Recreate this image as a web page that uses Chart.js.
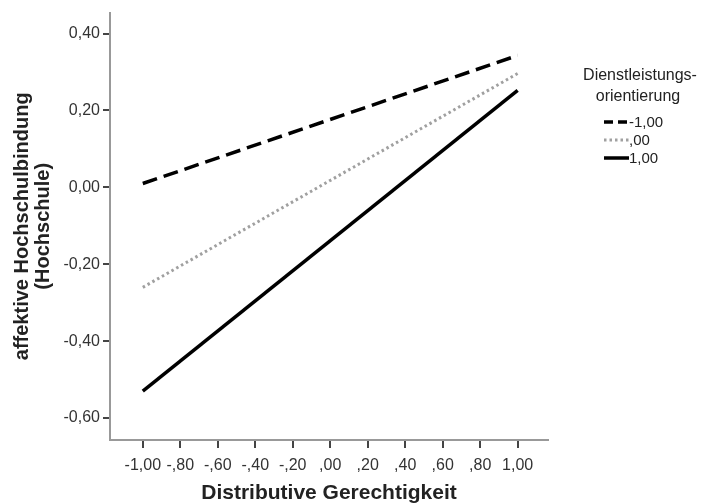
<!DOCTYPE html>
<html>
<head>
<meta charset="utf-8">
<script src="https://cdn.jsdelivr.net/npm/chart.js@4/dist/chart.umd.min.js"></script>
<style>
  html, body { margin: 0; padding: 0; background: #fff; }
  #wrap { width: 705px; height: 504px; }
</style>
</head>
<body>
<div id="wrap"><canvas id="plot" width="705" height="504"></canvas></div>
<script>
"use strict";

// Werte
const xEnds = [-1, 1];
const seriesLabels = ["-1,00", ",00", "1,00"];
const lowOrient = [0.01, 0.343];
const midOrient = [-0.26, 0.296];
const highOrient = [-0.53, 0.252];
const xTicks = [-1, -0.8, -0.6, -0.4, -0.2, 0, 0.2, 0.4, 0.6, 0.8, 1];
const yTicks = [-0.6, -0.4, -0.2, 0, 0.2, 0.4];

const FONT = "Arial, 'Liberation Sans', sans-serif";

function toPoints(ys) {
    return xEnds.map((x, i) => ({ x: x, y: ys[i] }));
}

// deutsches Format, wie SPSS: 0,40 bzw. -,80
function fmtY(v) {
    return v.toFixed(2).replace(".", ",");
}
function fmtX(v) {
    let s = Math.abs(v).toFixed(2).replace(".", ",");
    if (Math.abs(v) < 1) s = s.replace(/^0/, "");
    return (v < 0 ? "-" : "") + s;
}

const styles = [
    { color: "#000", dash: [15, 7], width: 3.5 },
    { color: "#a0a0a0", dash: [2.5, 3], width: 3 },
    { color: "#000", dash: [], width: 3.5 }
];

const datasets = [lowOrient, midOrient, highOrient].map((ys, i) => ({
    label: seriesLabels[i],
    data: toPoints(ys),
    borderColor: styles[i].color,
    borderDash: styles[i].dash,
    borderWidth: styles[i].width,
    pointRadius: 0,
    fill: false,
    tension: 0
}));

// eigene Legende rechts
const legendPlugin = {
    id: "sideLegend",
    afterDraw(chart) {
        const ctx = chart.ctx;
        ctx.save();
        ctx.fillStyle = "#222";
        ctx.textAlign = "center";
        ctx.textBaseline = "middle";
        ctx.font = "16px " + FONT;
        ctx.fillText("Dienstleistungs-", 640, 76);
        ctx.fillText("orientierung", 638, 97);
        ctx.font = "15px " + FONT;
        ctx.textAlign = "left";
        chart.data.datasets.forEach((ds, i) => {
            const y = 122 + i * 18;
            ctx.beginPath();
            ctx.strokeStyle = ds.borderColor;
            ctx.lineWidth = ds.borderWidth;
            ctx.setLineDash(i === 0 ? [9, 5] : ds.borderDash);
            ctx.moveTo(604, y);
            ctx.lineTo(629, y);
            ctx.stroke();
            ctx.setLineDash([]);
            ctx.fillStyle = "#222";
            ctx.fillText(ds.label, 629, y + 1);
        });
        ctx.restore();
    }
};

new Chart(document.getElementById("plot"), {
    type: "line",
    data: { datasets: datasets },
    plugins: [legendPlugin],
    options: {
        responsive: false,
        animation: false,
        layout: { padding: { top: 12, right: 157, left: 0, bottom: 0 } },
        plugins: { legend: { display: false }, tooltip: { enabled: false } },
        scales: {
            x: {
                type: "linear",
                min: -1.175,
                max: 1.162,
                afterBuildTicks: s => { s.ticks = xTicks.map(v => ({ value: v })); },
                afterFit: s => { s.height = 64; },
                ticks: {
                    callback: v => fmtX(v),
                    color: "#333",
                    font: { family: FONT, size: 16 },
                    padding: 8,
                    maxRotation: 0,
                    autoSkip: false
                },
                grid: { drawOnChartArea: false, drawTicks: true, tickLength: 8, color: "#444", lineWidth: 2 },
                border: { color: "#999", width: 2 },
                title: {
                    display: true,
                    text: "Distributive Gerechtigkeit",
                    color: "#222",
                    font: { family: FONT, size: 21, weight: "bold", lineHeight: 1.0 },
                    padding: { top: 2, bottom: 0 }
                }
            },
            y: {
                type: "linear",
                min: -0.657,
                max: 0.4545,
                afterBuildTicks: s => { s.ticks = yTicks.map(v => ({ value: v })); },
                afterFit: s => { s.width = 110; },
                ticks: {
                    callback: v => fmtY(v),
                    color: "#333",
                    font: { family: FONT, size: 16 },
                    padding: 3
                },
                grid: { drawOnChartArea: false, drawTicks: true, tickLength: 7, color: "#444", lineWidth: 2 },
                border: { color: "#999", width: 2 },
                title: {
                    display: true,
                    text: ["affektive Hochschulbindung", "(Hochschule)"],
                    color: "#222",
                    font: { family: FONT, size: 20, weight: "bold", lineHeight: 1.05 },
                    padding: { top: 12, bottom: 0 }
                }
            }
        }
    }
});
</script>
</body>
</html>
